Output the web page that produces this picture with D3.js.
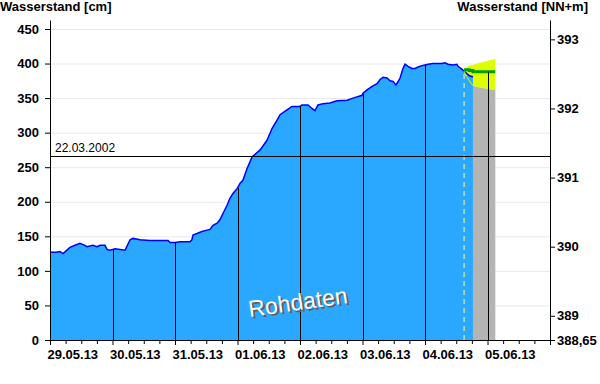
<!DOCTYPE html>
<html>
<head>
<meta charset="utf-8">
<script src="https://cdn.jsdelivr.net/npm/d3@7"></script>
<style>
body{margin:0;background:#fff;}
svg text{font-family:Arial,"Liberation Sans",sans-serif;}
</style>
</head>
<body>
<svg id="chart" width="600" height="384"></svg>
<script>
// gemessene Werte (Rohdaten)
var times = ["2013-05-29 00:00","2013-05-29 02:15","2013-05-29 03:50","2013-05-29 05:00","2013-05-29 06:30","2013-05-29 07:40",
 "2013-05-29 09:35","2013-05-29 11:30","2013-05-29 13:25","2013-05-29 14:10","2013-05-29 16:30","2013-05-29 18:05",
 "2013-05-29 19:10","2013-05-29 21:05","2013-05-29 21:55","2013-05-29 23:00","2013-05-30 01:00","2013-05-30 02:55",
 "2013-05-30 04:50","2013-05-30 06:45","2013-05-30 07:50","2013-05-30 10:35","2013-05-30 14:25","2013-05-30 21:20",
 "2013-05-30 22:05","2013-05-31 00:00","2013-05-31 01:55","2013-05-31 05:45","2013-05-31 06:30","2013-05-31 06:55",
 "2013-05-31 08:25","2013-05-31 10:20","2013-05-31 12:15","2013-05-31 13:25","2013-05-31 14:35","2013-05-31 16:10",
 "2013-05-31 17:15","2013-05-31 18:25","2013-05-31 20:00","2013-05-31 21:05","2013-05-31 22:15","2013-05-31 23:50",
 "2013-06-01 01:00","2013-06-01 02:05","2013-06-01 03:40","2013-06-01 05:35","2013-06-01 08:40","2013-06-01 11:20",
 "2013-06-01 13:15","2013-06-01 15:10","2013-06-01 16:20","2013-06-01 19:00","2013-06-01 20:55","2013-06-02 00:00",
 "2013-06-02 00:45","2013-06-02 03:05","2013-06-02 04:35","2013-06-02 05:45","2013-06-02 06:55","2013-06-02 08:50",
 "2013-06-02 11:30","2013-06-02 14:15","2013-06-02 18:05","2013-06-02 20:20","2013-06-02 23:50","2013-06-03 00:10",
 "2013-06-03 01:45","2013-06-03 03:40","2013-06-03 05:35","2013-06-03 06:45","2013-06-03 07:50","2013-06-03 09:25",
 "2013-06-03 10:35","2013-06-03 11:45","2013-06-03 12:50","2013-06-03 13:40","2013-06-03 14:25","2013-06-03 15:10",
 "2013-06-03 15:35","2013-06-03 16:20","2013-06-03 17:30","2013-06-03 19:00","2013-06-03 20:10","2013-06-03 21:20",
 "2013-06-03 22:50","2013-06-04 00:00","2013-06-04 01:10","2013-06-04 03:05","2013-06-04 06:30","2013-06-04 07:40",
 "2013-06-04 08:50","2013-06-04 10:45","2013-06-04 12:15","2013-06-04 12:40","2013-06-04 14:10","2013-06-04 15:20",
 "2013-06-04 16:10","2013-06-04 17:15","2013-06-04 18:25"];
var levels = [127,127,128,125,130,134,
 137,140,137,135,137,135,
 137,137,131,130,132,131,
 130,145,147,145,144,144,
 141,141,142,142,145,152,
 154,157,159,160,166,169,
 174,183,195,205,212,219,
 227,231,248,265,275,289,
 306,318,326,333,338,338,
 340,340,335,332,340,342,
 343,346,347,350,354,357,
 362,367,371,377,380,379,
 375,374,369,374,379,388,
 393,399,396,393,393,395,
 397,398,399,400,400,401,
 399,398,399,396,392,388,
 385,382,381];

// Vorhersage
var fcTimes = ["2013-06-04 15:00","2013-06-04 16:00","2013-06-04 17:00","2013-06-04 18:25","2013-06-04 20:00","2013-06-04 23:00","2013-06-05 02:00","2013-06-05 03:00"];
var fcMid  = [391,391,390,388,388,388,388,388];
var fcHigh = [392,395,397,398,400,403,406,407];
var fcLow  = [389,381,375,368,366,364,362,362];

var nowTime = "2013-06-04 15:00";
var refLevel = 266;
var refLabel = "22.03.2002";
var dayTicks = ["2013-05-29","2013-05-30","2013-05-31","2013-06-01","2013-06-02","2013-06-03","2013-06-04","2013-06-05","2013-06-06"];
var leftTicks = [0,50,100,150,200,250,300,350,400,450];
var rightTicks = [388.65,389,390,391,392,393];
var pegelNull = 388.65;

var parseT = d3.timeParse("%Y-%m-%d %H:%M");
var parseD = d3.timeParse("%Y-%m-%d");
var fmtD = d3.timeFormat("%d.%m.%y");

var data = times.map(function(t,i){ return {t:parseT(t), v:levels[i]}; });
var fc = fcTimes.map(function(t,i){ return {t:parseT(t), mid:fcMid[i], lo:fcLow[i], hi:fcHigh[i]}; });
var days = dayTicks.map(parseD);
var lastT = data[data.length-1].t;

var svg = d3.select("#chart");
var pL = 50, pR = 550, pT = 20, pB = 340;

var x = d3.scaleTime().domain([days[0], days[days.length-1]]).range([pL, pR]);
var y = d3.scaleLinear().domain([0,463]).range([pB, pT]);
var yR = d3.scaleLinear().domain([pegelNull, pegelNull+4.63]).range([pB, pT]);

// Gitterlinien
svg.append("g").selectAll("line").data(leftTicks.slice(1)).enter().append("line")
  .attr("x1",pL).attr("x2",pR).attr("y1",function(d){return y(d)+0.5;}).attr("y2",function(d){return y(d)+0.5;})
  .attr("stroke","#e8e8e8").attr("stroke-width",1);

// Vorhersage-Band
svg.append("path").datum(fc)
  .attr("d", d3.area().x(function(d){return x(d.t);}).y0(function(d){return y(d.lo);}).y1(function(d){return y(d.hi);}))
  .attr("fill","#ddff00");
svg.append("path").datum(fc.filter(function(d){return d.t >= lastT;}))
  .attr("d", d3.area().x(function(d){return x(d.t);}).y0(y(0)).y1(function(d){return y(d.lo);}))
  .attr("fill","#b4b4b4");

// Rohdaten
svg.append("path").datum(data)
  .attr("d", d3.area().x(function(d){return x(d.t);}).y0(y(0)).y1(function(d){return y(d.v);}))
  .attr("fill","#2aa8ff");
svg.append("path").datum(data)
  .attr("d", d3.line().x(function(d){return x(d.t);}).y(function(d){return y(d.v);}))
  .attr("fill","none").attr("stroke","#0000ff").attr("stroke-width",1.5);
svg.append("path").datum(fc.filter(function(d){return d.t <= lastT;}))
  .attr("d", d3.line().x(function(d){return x(d.t);}).y(function(d){return y(d.lo);}))
  .attr("fill","none").attr("stroke","#ddff00").attr("stroke-width",1);
svg.append("path").datum(fc)
  .attr("d", d3.line().curve(d3.curveStepAfter).x(function(d){return x(d.t);}).y(function(d){return y(d.mid);}))
  .attr("fill","none").attr("stroke","#00a000").attr("stroke-width",3);

// Wert zu einem Zeitpunkt (Messung, danach Vorhersage)
var series = data.concat(fc.filter(function(d){return d.t > lastT;}).map(function(d){return {t:d.t, v:d.mid};}));
var bis = d3.bisector(function(d){return d.t;}).left;
function valueAt(t){
  var i = bis(series, t);
  if(i <= 0) return series[0].v;
  if(i >= series.length) return null;
  var a = series[i-1], b = series[i];
  return a.v + (b.v-a.v)*(t-a.t)/(b.t-a.t);
}

// Tageslinien
svg.append("g").selectAll("line").data(days.slice(1,-1).filter(function(d){return valueAt(d)!==null;})).enter().append("line")
  .attr("x1",function(d){return Math.round(x(d))+0.5;}).attr("x2",function(d){return Math.round(x(d))+0.5;})
  .attr("y1",y(0)).attr("y2",function(d){return y(valueAt(d));})
  .attr("stroke","#000").attr("stroke-width",1);

// Jetzt-Linie
var now = parseT(nowTime);
svg.append("line").attr("x1",x(now)).attr("x2",x(now)).attr("y1",y(0)).attr("y2",y(valueAt(now))+3)
  .attr("stroke","#ffff88").attr("stroke-width",1).attr("stroke-dasharray","5,4");

// Hochwassermarke
svg.append("line").attr("x1",pL).attr("x2",pR).attr("y1",Math.round(y(refLevel))+0.5).attr("y2",Math.round(y(refLevel))+0.5)
  .attr("stroke","#000").attr("stroke-width",1);
svg.append("text").attr("x",pL+5).attr("y",y(refLevel)-4).text(refLabel)
  .style("font-size","12px").attr("fill","#000");

// Achsen
var axL = svg.append("g").attr("transform","translate("+pL+",0)")
  .call(d3.axisLeft(y).tickValues(leftTicks).tickSize(5).tickSizeOuter(0).tickPadding(6));
var axR = svg.append("g").attr("transform","translate("+pR+",0)")
  .call(d3.axisRight(yR).tickValues(rightTicks).tickSize(5).tickSizeOuter(0).tickPadding(2)
    .tickFormat(function(d){return String(d).replace(".",",");}));
var minor = d3.timeHour.every(6).range(days[0], days[days.length-1]).filter(function(d){return d.getHours()!==0;});
svg.append("g").attr("transform","translate(0,"+pB+")")
  .call(d3.axisBottom(x).tickValues(minor).tickSize(4).tickSizeOuter(0).tickFormat(""));
var axB = svg.append("g").attr("transform","translate(0,"+pB+")")
  .call(d3.axisBottom(x).tickValues(days).tickSize(5).tickSizeOuter(0).tickPadding(5)
    .tickFormat(function(d,i){return i < days.length-1 ? fmtD(d) : "";}));
axB.selectAll("text").attr("text-anchor","start").attr("x",-3);

[axL, axR, axB].forEach(function(a){
  a.selectAll("text").style("font-family","Arial, 'Liberation Sans', sans-serif").style("font-size","13px").style("font-weight","bold").attr("fill","#000");
  a.selectAll("line,path").attr("stroke","#000");
});

// Titel
svg.append("text").attr("x",0).attr("y",11).text("Wasserstand [cm]")
  .style("font-size","13px").style("font-weight","bold");
svg.append("text").attr("x",588).attr("y",11).attr("text-anchor","end").text("Wasserstand [NN+m]")
  .style("font-size","13px").style("font-weight","bold");

// Wasserzeichen
var wm = svg.append("g").attr("transform","translate(299,310) rotate(-8)");
wm.append("text").attr("x",2).attr("y",2).attr("text-anchor","middle").text("Rohdaten")
  .style("font-size","23px").attr("fill","#606060");
wm.append("text").attr("x",0).attr("y",0).attr("text-anchor","middle").text("Rohdaten")
  .style("font-size","23px").attr("fill","#fff");
</script>
</body>
</html>
